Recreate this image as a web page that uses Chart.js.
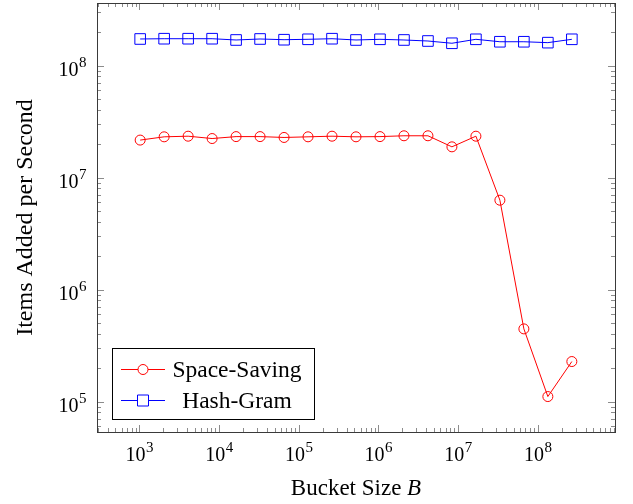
<!DOCTYPE html>
<html>
<head>
<meta charset="utf-8">
<script src="https://cdn.jsdelivr.net/npm/chart.js@4.4.0/dist/chart.umd.min.js"></script>
<style>
  html, body { margin: 0; padding: 0; background: #fff; }
  canvas { display: block; }
</style>
</head>
<body>
<canvas id="chart" width="633" height="504"></canvas>
<script>
// bucket sizes B = 2^10 .. 2^28
const bucketSizes = [1024, 2048, 4096, 8192, 16384, 32768, 65536, 131072, 262144,
  524288, 1048576, 2097152, 4194304, 8388608, 16777216, 33554432, 67108864,
  134217728, 268435456];

// items added per second
const spaceSaving = [2.16e7, 2.31e7, 2.34e7, 2.23e7, 2.32e7, 2.32e7, 2.28e7, 2.31e7, 2.34e7,
  2.31e7, 2.32e7, 2.36e7, 2.36e7, 1.88e7, 2.34e7, 6.28e6, 4.46e5, 1.11e5, 2.28e5];
const hashGram = [1.725e8, 1.735e8, 1.735e8, 1.735e8, 1.69e8, 1.725e8, 1.70e8, 1.714e8, 1.735e8,
  1.69e8, 1.714e8, 1.69e8, 1.655e8, 1.58e8, 1.714e8, 1.63e8, 1.63e8, 1.60e8, 1.714e8];

const seriesNames = ['Space-Saving', 'Hash-Gram'];
const xTickExps = [3, 4, 5, 6, 7, 8];
const yTickExps = [5, 6, 7, 8];

const FONT = '"Liberation Serif", "DejaVu Serif", serif';

function toPoints(ys) {
  return bucketSizes.map((b, i) => ({ x: b, y: ys[i] }));
}

// frame, inside ticks, tick labels, axis titles, legend (pgfplots look)
const pgfDecor = {
  id: 'pgfDecor',
  afterDatasetsDraw(chart) {
    const { ctx, chartArea: a, scales: { x, y } } = chart;
    ctx.save();

    // minor + major ticks on all four sides
    ctx.strokeStyle = '#8c8c8c';
    ctx.lineWidth = 1;
    const tick = (px, len, vertical) => {
      ctx.beginPath();
      if (vertical) {
        ctx.moveTo(px, a.bottom); ctx.lineTo(px, a.bottom - len);
        ctx.moveTo(px, a.top); ctx.lineTo(px, a.top + len);
      } else {
        ctx.moveTo(a.left, px); ctx.lineTo(a.left + len, px);
        ctx.moveTo(a.right, px); ctx.lineTo(a.right - len, px);
      }
      ctx.stroke();
    };
    for (let e = 2; e <= 8; e++) {
      for (let m = 1; m <= 9; m++) {
        const v = m * Math.pow(10, e);
        if (v < x.min || v > x.max) continue;
        const px = Math.round(x.getPixelForValue(v)) + 0.5;
        tick(px, m === 1 ? 7 : 4, true);
      }
    }
    for (let e = 4; e <= 8; e++) {
      for (let m = 1; m <= 9; m++) {
        const v = m * Math.pow(10, e);
        if (v < y.min || v > y.max) continue;
        const py = Math.round(y.getPixelForValue(v)) + 0.5;
        tick(py, m === 1 ? 7 : 4, false);
      }
    }

    // frame
    ctx.strokeStyle = '#3a3a3a';
    ctx.strokeRect(Math.round(a.left) + 0.5, Math.round(a.top) + 0.5,
      Math.round(a.right - a.left), Math.round(a.bottom - a.top));

    // tick labels 10^e
    ctx.fillStyle = '#000';
    const baseFont = '20px ' + FONT, supFont = '15px ' + FONT;
    const label = (e, cx, cy, align) => {
      ctx.font = baseFont;
      const w1 = ctx.measureText('10').width;
      ctx.font = supFont;
      const w2 = ctx.measureText(String(e)).width;
      const left = align === 'center' ? cx - (w1 + w2) / 2 : cx - (w1 + w2);
      ctx.textAlign = 'left';
      ctx.textBaseline = 'alphabetic';
      ctx.font = baseFont;
      ctx.fillText('10', left, cy + 7);
      ctx.font = supFont;
      ctx.fillText(String(e), left + w1 + 0.5, cy - 2);
    };
    xTickExps.forEach(e => label(e, x.getPixelForValue(Math.pow(10, e)), a.bottom + 22, 'center'));
    yTickExps.forEach(e => label(e, a.left - 11, y.getPixelForValue(Math.pow(10, e)) + 3, 'right'));

    // x axis title with italic B
    const titleFont = '23px ' + FONT;
    ctx.font = titleFont;
    const t1 = 'Bucket Size ';
    const w1 = ctx.measureText(t1).width;
    ctx.font = 'italic ' + titleFont;
    const w2 = ctx.measureText('B').width;
    const tx = (a.left + a.right) / 2 - (w1 + w2) / 2;
    ctx.textAlign = 'left';
    ctx.textBaseline = 'middle';
    ctx.font = titleFont;
    ctx.fillText(t1, tx, 489);
    ctx.font = 'italic ' + titleFont;
    ctx.fillText('B', tx + w1, 489);

    // y axis title
    ctx.save();
    ctx.translate(26, (a.top + a.bottom) / 2);
    ctx.rotate(-Math.PI / 2);
    ctx.textAlign = 'center';
    ctx.font = '24px ' + FONT;
    ctx.fillText('Items Added per Second', 0, 0);
    ctx.restore();

    // legend box
    const lx = 112.5, ly = 348.5, lw = 202, lh = 71;
    ctx.fillStyle = '#fff';
    ctx.fillRect(lx, ly, lw, lh);
    ctx.strokeStyle = '#000';
    ctx.strokeRect(lx, ly, lw, lh);
    chart.data.datasets.forEach((ds, i) => {
      const cy = 369.5 + i * 31;
      ctx.strokeStyle = ds.borderColor;
      ctx.lineWidth = 1;
      ctx.beginPath();
      ctx.moveTo(121, cy); ctx.lineTo(165, cy);
      ctx.stroke();
      ctx.fillStyle = '#fff';
      ctx.beginPath();
      if (ds.pointStyle === 'circle') {
        ctx.arc(143, cy, 5, 0, Math.PI * 2);
      } else {
        ctx.rect(137.5, cy - 5.5, 11, 11);
      }
      ctx.fill();
      ctx.stroke();
      ctx.fillStyle = '#000';
      ctx.font = '23.5px ' + FONT;
      ctx.textAlign = 'center';
      ctx.textBaseline = 'middle';
      ctx.fillText(ds.label, 237, cy + 1);
    });

    ctx.restore();
  }
};

new Chart(document.getElementById('chart'), {
  type: 'line',
  data: {
    datasets: [
      {
        label: seriesNames[0],
        data: toPoints(spaceSaving),
        borderColor: '#ff0000',
        backgroundColor: 'rgba(0,0,0,0)',
        borderWidth: 1,
        pointStyle: 'circle',
        pointRadius: 5,
        pointBorderWidth: 1,
        pointBackgroundColor: 'rgba(0,0,0,0)',
        tension: 0
      },
      {
        label: seriesNames[1],
        data: toPoints(hashGram),
        borderColor: '#0000ff',
        backgroundColor: 'rgba(0,0,0,0)',
        borderWidth: 1,
        pointStyle: 'rect',
        pointRadius: 7.5,
        pointBorderWidth: 1,
        pointBackgroundColor: 'rgba(0,0,0,0)',
        tension: 0
      }
    ]
  },
  options: {
    responsive: false,
    animation: false,
    devicePixelRatio: 1,
    layout: { autoPadding: false, padding: { top: 3, right: 18, left: 0, bottom: 0 } },
    plugins: { legend: { display: false }, tooltip: { enabled: false } },
    scales: {
      x: {
        type: 'logarithmic',
        min: Math.pow(10, 2.4685),
        max: Math.pow(10, 8.9706),
        grid: { display: false },
        border: { display: false },
        ticks: { display: false },
        afterFit: s => { s.height = 72; }
      },
      y: {
        type: 'logarithmic',
        min: Math.pow(10, 4.729),
        max: Math.pow(10, 8.558),
        grid: { display: false },
        border: { display: false },
        ticks: { display: false },
        afterFit: s => { s.width = 97; }
      }
    }
  },
  plugins: [pgfDecor]
});
</script>
</body>
</html>
